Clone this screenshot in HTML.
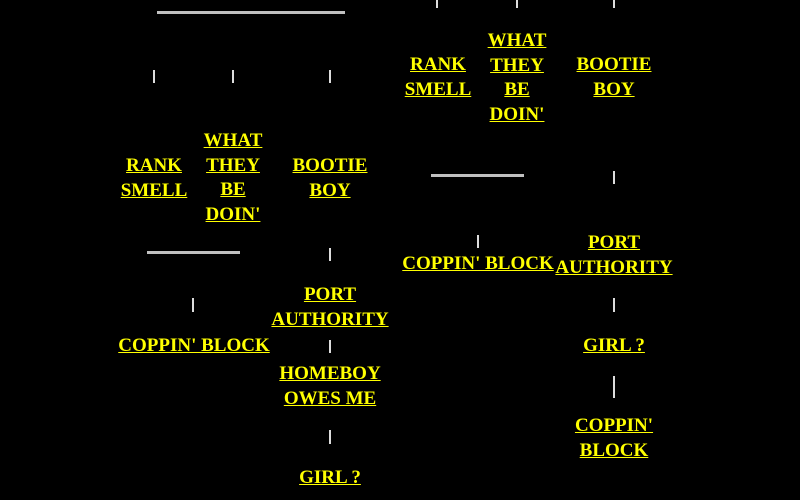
<!DOCTYPE html>
<html><head><style>
body{margin:0;width:800px;height:500px;background:#000;overflow:hidden;position:relative;font-family:"Liberation Serif",serif;}
.l{position:absolute;transform:translateX(-50%);color:#ff0;font-weight:bold;font-size:19px;line-height:24.5px;text-align:center;text-decoration:underline;white-space:nowrap;}
.h{position:absolute;height:3px;background:#c0c0c0;}
.v{position:absolute;width:2px;background:#ddd;}
</style></head><body>
<div class="h" style="left:157px;top:11px;width:188px"></div>
<div class="h" style="left:147px;top:251px;width:93px"></div>
<div class="h" style="left:431px;top:174px;width:93px"></div>

<div class="v" style="left:153px;top:70px;height:13px"></div>
<div class="v" style="left:232px;top:70px;height:13px"></div>
<div class="v" style="left:329px;top:70px;height:13px"></div>
<div class="v" style="left:436px;top:0;height:8px"></div>
<div class="v" style="left:516px;top:0;height:8px"></div>
<div class="v" style="left:613px;top:0;height:8px"></div>
<div class="v" style="left:329px;top:248px;height:13px"></div>
<div class="v" style="left:192px;top:298px;height:14px"></div>
<div class="v" style="left:329px;top:340px;height:13px"></div>
<div class="v" style="left:329px;top:430px;height:14px"></div>
<div class="v" style="left:477px;top:235px;height:13px"></div>
<div class="v" style="left:613px;top:171px;height:13px"></div>
<div class="v" style="left:613px;top:298px;height:14px"></div>
<div class="v" style="left:613px;top:376px;height:22px"></div>

<div class="l" style="left:154px;top:154px">RANK<br>SMELL</div>
<div class="l" style="left:233px;top:129px">WHAT<br>THEY<br>BE<br>DOIN'</div>
<div class="l" style="left:330px;top:154px">BOOTIE<br>BOY</div>
<div class="l" style="left:194px;top:334px">COPPIN' BLOCK</div>
<div class="l" style="left:330px;top:283px">PORT<br>AUTHORITY</div>
<div class="l" style="left:330px;top:362px">HOMEBOY<br>OWES ME</div>
<div class="l" style="left:330px;top:466px">GIRL ?</div>

<div class="l" style="left:438px;top:53px">RANK<br>SMELL</div>
<div class="l" style="left:517px;top:29px">WHAT<br>THEY<br>BE<br>DOIN'</div>
<div class="l" style="left:614px;top:53px">BOOTIE<br>BOY</div>
<div class="l" style="left:478px;top:252px">COPPIN' BLOCK</div>
<div class="l" style="left:614px;top:231px">PORT<br>AUTHORITY</div>
<div class="l" style="left:614px;top:334px">GIRL ?</div>
<div class="l" style="left:614px;top:414px">COPPIN'<br>BLOCK</div>
</body></html>
